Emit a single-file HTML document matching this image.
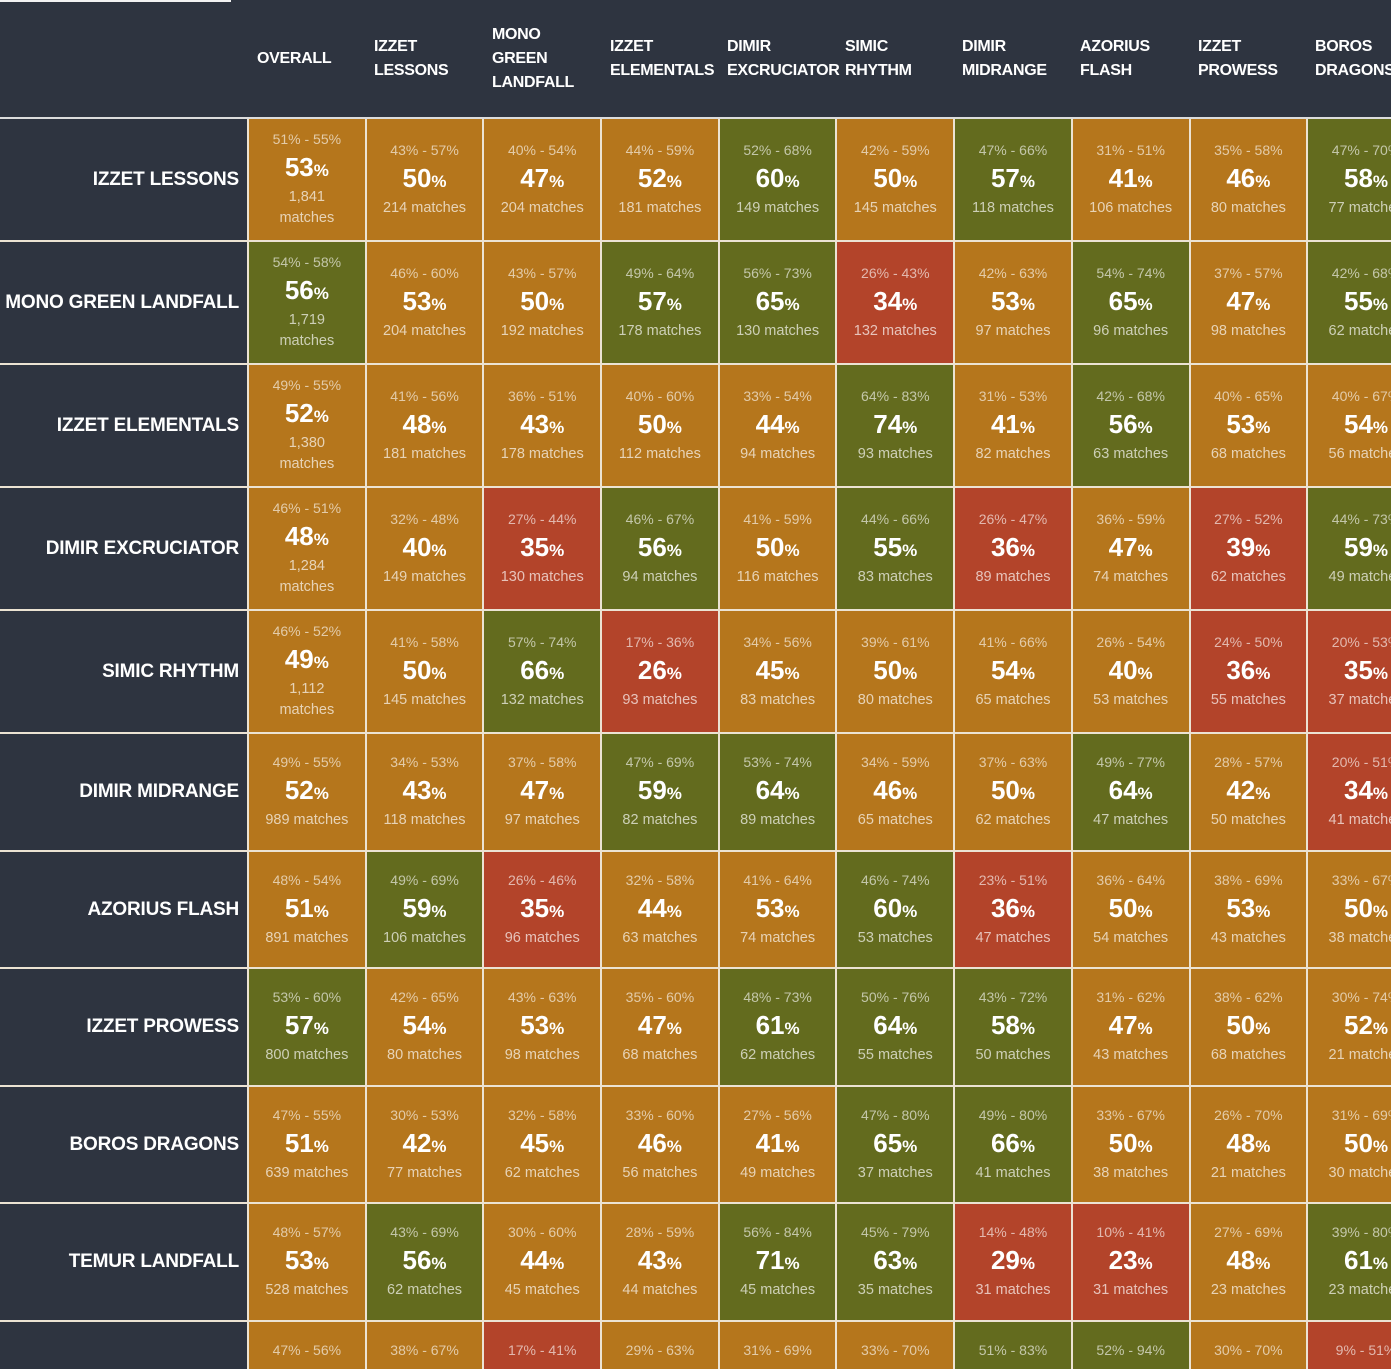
<!DOCTYPE html>
<html><head><meta charset="utf-8"><style>
*{margin:0;padding:0;box-sizing:border-box}
html{width:1391px;height:1369px;overflow:hidden}
body{width:1391px;height:1369px;overflow:hidden;background:#ece3d3;font-family:"Liberation Sans",sans-serif;position:relative}
.hd{position:absolute;left:0;top:0;width:1391px;height:117px;background:#2e3440}
.tl{position:absolute;left:0;top:0;width:231px;height:2px;background:#f2f2f2}
.hl{position:absolute;left:0;top:117px;width:1391px;height:2px;background:#dcdcdc}
.h{position:absolute;color:#fff;font-weight:bold;font-size:16px;line-height:24px;white-space:nowrap;top:0;height:117px;display:flex;align-items:center;letter-spacing:-0.3px}
.r{position:absolute;left:0;width:1500px;display:flex}
.l{width:247px;background:#2e3440;color:#fff;font-weight:bold;font-size:19px;display:flex;align-items:center;justify-content:flex-end;padding-right:8px;white-space:nowrap;flex-shrink:0;letter-spacing:-0.2px}
.c{width:115.7px;margin-left:2px;display:flex;flex-direction:column;align-items:center;justify-content:center;color:#fff;text-align:center;flex-shrink:0}
.o{background:#b5761c}.g{background:#636b1e}.x{background:#b3442a}
.a{font-size:14px;line-height:18px;color:rgba(255,255,255,.62)}
.b{font-size:26px;font-weight:bold;line-height:32px;margin:3px 0 0}
.b i{font-style:normal;font-size:17px}
.m{font-size:14.5px;line-height:21px;color:rgba(255,255,255,.68);white-space:nowrap}
</style></head><body>
<div class="hd"></div><div class="tl"></div><div class="hl"></div>
<div class="h" style="left:257px">OVERALL</div>
<div class="h" style="left:374px">IZZET<br>LESSONS</div>
<div class="h" style="left:492px">MONO<br>GREEN<br>LANDFALL</div>
<div class="h" style="left:610px">IZZET<br>ELEMENTALS</div>
<div class="h" style="left:727px">DIMIR<br>EXCRUCIATOR</div>
<div class="h" style="left:845px">SIMIC<br>RHYTHM</div>
<div class="h" style="left:962px">DIMIR<br>MIDRANGE</div>
<div class="h" style="left:1080px">AZORIUS<br>FLASH</div>
<div class="h" style="left:1198px">IZZET<br>PROWESS</div>
<div class="h" style="left:1315px">BOROS<br>DRAGONS</div>

<div class="r" style="top:119px;height:121px"><div class="l">IZZET LESSONS</div>
<div class="c o"><div class="a">51% - 55%</div><div class="b">53<i>%</i></div><div class="m">1,841<br>matches</div></div>
<div class="c o"><div class="a">43% - 57%</div><div class="b">50<i>%</i></div><div class="m">214 matches</div></div>
<div class="c o"><div class="a">40% - 54%</div><div class="b">47<i>%</i></div><div class="m">204 matches</div></div>
<div class="c o"><div class="a">44% - 59%</div><div class="b">52<i>%</i></div><div class="m">181 matches</div></div>
<div class="c g"><div class="a">52% - 68%</div><div class="b">60<i>%</i></div><div class="m">149 matches</div></div>
<div class="c o"><div class="a">42% - 59%</div><div class="b">50<i>%</i></div><div class="m">145 matches</div></div>
<div class="c g"><div class="a">47% - 66%</div><div class="b">57<i>%</i></div><div class="m">118 matches</div></div>
<div class="c o"><div class="a">31% - 51%</div><div class="b">41<i>%</i></div><div class="m">106 matches</div></div>
<div class="c o"><div class="a">35% - 58%</div><div class="b">46<i>%</i></div><div class="m">80 matches</div></div>
<div class="c g"><div class="a">47% - 70%</div><div class="b">58<i>%</i></div><div class="m">77 matches</div></div></div>

<div class="r" style="top:242px;height:121px"><div class="l">MONO GREEN LANDFALL</div>
<div class="c g"><div class="a">54% - 58%</div><div class="b">56<i>%</i></div><div class="m">1,719<br>matches</div></div>
<div class="c o"><div class="a">46% - 60%</div><div class="b">53<i>%</i></div><div class="m">204 matches</div></div>
<div class="c o"><div class="a">43% - 57%</div><div class="b">50<i>%</i></div><div class="m">192 matches</div></div>
<div class="c g"><div class="a">49% - 64%</div><div class="b">57<i>%</i></div><div class="m">178 matches</div></div>
<div class="c g"><div class="a">56% - 73%</div><div class="b">65<i>%</i></div><div class="m">130 matches</div></div>
<div class="c x"><div class="a">26% - 43%</div><div class="b">34<i>%</i></div><div class="m">132 matches</div></div>
<div class="c o"><div class="a">42% - 63%</div><div class="b">53<i>%</i></div><div class="m">97 matches</div></div>
<div class="c g"><div class="a">54% - 74%</div><div class="b">65<i>%</i></div><div class="m">96 matches</div></div>
<div class="c o"><div class="a">37% - 57%</div><div class="b">47<i>%</i></div><div class="m">98 matches</div></div>
<div class="c g"><div class="a">42% - 68%</div><div class="b">55<i>%</i></div><div class="m">62 matches</div></div></div>

<div class="r" style="top:365px;height:121px"><div class="l">IZZET ELEMENTALS</div>
<div class="c o"><div class="a">49% - 55%</div><div class="b">52<i>%</i></div><div class="m">1,380<br>matches</div></div>
<div class="c o"><div class="a">41% - 56%</div><div class="b">48<i>%</i></div><div class="m">181 matches</div></div>
<div class="c o"><div class="a">36% - 51%</div><div class="b">43<i>%</i></div><div class="m">178 matches</div></div>
<div class="c o"><div class="a">40% - 60%</div><div class="b">50<i>%</i></div><div class="m">112 matches</div></div>
<div class="c o"><div class="a">33% - 54%</div><div class="b">44<i>%</i></div><div class="m">94 matches</div></div>
<div class="c g"><div class="a">64% - 83%</div><div class="b">74<i>%</i></div><div class="m">93 matches</div></div>
<div class="c o"><div class="a">31% - 53%</div><div class="b">41<i>%</i></div><div class="m">82 matches</div></div>
<div class="c g"><div class="a">42% - 68%</div><div class="b">56<i>%</i></div><div class="m">63 matches</div></div>
<div class="c o"><div class="a">40% - 65%</div><div class="b">53<i>%</i></div><div class="m">68 matches</div></div>
<div class="c o"><div class="a">40% - 67%</div><div class="b">54<i>%</i></div><div class="m">56 matches</div></div></div>

<div class="r" style="top:488px;height:121px"><div class="l">DIMIR EXCRUCIATOR</div>
<div class="c o"><div class="a">46% - 51%</div><div class="b">48<i>%</i></div><div class="m">1,284<br>matches</div></div>
<div class="c o"><div class="a">32% - 48%</div><div class="b">40<i>%</i></div><div class="m">149 matches</div></div>
<div class="c x"><div class="a">27% - 44%</div><div class="b">35<i>%</i></div><div class="m">130 matches</div></div>
<div class="c g"><div class="a">46% - 67%</div><div class="b">56<i>%</i></div><div class="m">94 matches</div></div>
<div class="c o"><div class="a">41% - 59%</div><div class="b">50<i>%</i></div><div class="m">116 matches</div></div>
<div class="c g"><div class="a">44% - 66%</div><div class="b">55<i>%</i></div><div class="m">83 matches</div></div>
<div class="c x"><div class="a">26% - 47%</div><div class="b">36<i>%</i></div><div class="m">89 matches</div></div>
<div class="c o"><div class="a">36% - 59%</div><div class="b">47<i>%</i></div><div class="m">74 matches</div></div>
<div class="c x"><div class="a">27% - 52%</div><div class="b">39<i>%</i></div><div class="m">62 matches</div></div>
<div class="c g"><div class="a">44% - 73%</div><div class="b">59<i>%</i></div><div class="m">49 matches</div></div></div>

<div class="r" style="top:611px;height:121px"><div class="l">SIMIC RHYTHM</div>
<div class="c o"><div class="a">46% - 52%</div><div class="b">49<i>%</i></div><div class="m">1,112<br>matches</div></div>
<div class="c o"><div class="a">41% - 58%</div><div class="b">50<i>%</i></div><div class="m">145 matches</div></div>
<div class="c g"><div class="a">57% - 74%</div><div class="b">66<i>%</i></div><div class="m">132 matches</div></div>
<div class="c x"><div class="a">17% - 36%</div><div class="b">26<i>%</i></div><div class="m">93 matches</div></div>
<div class="c o"><div class="a">34% - 56%</div><div class="b">45<i>%</i></div><div class="m">83 matches</div></div>
<div class="c o"><div class="a">39% - 61%</div><div class="b">50<i>%</i></div><div class="m">80 matches</div></div>
<div class="c o"><div class="a">41% - 66%</div><div class="b">54<i>%</i></div><div class="m">65 matches</div></div>
<div class="c o"><div class="a">26% - 54%</div><div class="b">40<i>%</i></div><div class="m">53 matches</div></div>
<div class="c x"><div class="a">24% - 50%</div><div class="b">36<i>%</i></div><div class="m">55 matches</div></div>
<div class="c x"><div class="a">20% - 53%</div><div class="b">35<i>%</i></div><div class="m">37 matches</div></div></div>

<div class="r" style="top:734px;height:116px"><div class="l">DIMIR MIDRANGE</div>
<div class="c o"><div class="a">49% - 55%</div><div class="b">52<i>%</i></div><div class="m">989 matches</div></div>
<div class="c o"><div class="a">34% - 53%</div><div class="b">43<i>%</i></div><div class="m">118 matches</div></div>
<div class="c o"><div class="a">37% - 58%</div><div class="b">47<i>%</i></div><div class="m">97 matches</div></div>
<div class="c g"><div class="a">47% - 69%</div><div class="b">59<i>%</i></div><div class="m">82 matches</div></div>
<div class="c g"><div class="a">53% - 74%</div><div class="b">64<i>%</i></div><div class="m">89 matches</div></div>
<div class="c o"><div class="a">34% - 59%</div><div class="b">46<i>%</i></div><div class="m">65 matches</div></div>
<div class="c o"><div class="a">37% - 63%</div><div class="b">50<i>%</i></div><div class="m">62 matches</div></div>
<div class="c g"><div class="a">49% - 77%</div><div class="b">64<i>%</i></div><div class="m">47 matches</div></div>
<div class="c o"><div class="a">28% - 57%</div><div class="b">42<i>%</i></div><div class="m">50 matches</div></div>
<div class="c x"><div class="a">20% - 51%</div><div class="b">34<i>%</i></div><div class="m">41 matches</div></div></div>

<div class="r" style="top:852px;height:115px"><div class="l">AZORIUS FLASH</div>
<div class="c o"><div class="a">48% - 54%</div><div class="b">51<i>%</i></div><div class="m">891 matches</div></div>
<div class="c g"><div class="a">49% - 69%</div><div class="b">59<i>%</i></div><div class="m">106 matches</div></div>
<div class="c x"><div class="a">26% - 46%</div><div class="b">35<i>%</i></div><div class="m">96 matches</div></div>
<div class="c o"><div class="a">32% - 58%</div><div class="b">44<i>%</i></div><div class="m">63 matches</div></div>
<div class="c o"><div class="a">41% - 64%</div><div class="b">53<i>%</i></div><div class="m">74 matches</div></div>
<div class="c g"><div class="a">46% - 74%</div><div class="b">60<i>%</i></div><div class="m">53 matches</div></div>
<div class="c x"><div class="a">23% - 51%</div><div class="b">36<i>%</i></div><div class="m">47 matches</div></div>
<div class="c o"><div class="a">36% - 64%</div><div class="b">50<i>%</i></div><div class="m">54 matches</div></div>
<div class="c o"><div class="a">38% - 69%</div><div class="b">53<i>%</i></div><div class="m">43 matches</div></div>
<div class="c o"><div class="a">33% - 67%</div><div class="b">50<i>%</i></div><div class="m">38 matches</div></div></div>

<div class="r" style="top:969px;height:116px"><div class="l">IZZET PROWESS</div>
<div class="c g"><div class="a">53% - 60%</div><div class="b">57<i>%</i></div><div class="m">800 matches</div></div>
<div class="c o"><div class="a">42% - 65%</div><div class="b">54<i>%</i></div><div class="m">80 matches</div></div>
<div class="c o"><div class="a">43% - 63%</div><div class="b">53<i>%</i></div><div class="m">98 matches</div></div>
<div class="c o"><div class="a">35% - 60%</div><div class="b">47<i>%</i></div><div class="m">68 matches</div></div>
<div class="c g"><div class="a">48% - 73%</div><div class="b">61<i>%</i></div><div class="m">62 matches</div></div>
<div class="c g"><div class="a">50% - 76%</div><div class="b">64<i>%</i></div><div class="m">55 matches</div></div>
<div class="c g"><div class="a">43% - 72%</div><div class="b">58<i>%</i></div><div class="m">50 matches</div></div>
<div class="c o"><div class="a">31% - 62%</div><div class="b">47<i>%</i></div><div class="m">43 matches</div></div>
<div class="c o"><div class="a">38% - 62%</div><div class="b">50<i>%</i></div><div class="m">68 matches</div></div>
<div class="c o"><div class="a">30% - 74%</div><div class="b">52<i>%</i></div><div class="m">21 matches</div></div></div>

<div class="r" style="top:1087px;height:115px"><div class="l">BOROS DRAGONS</div>
<div class="c o"><div class="a">47% - 55%</div><div class="b">51<i>%</i></div><div class="m">639 matches</div></div>
<div class="c o"><div class="a">30% - 53%</div><div class="b">42<i>%</i></div><div class="m">77 matches</div></div>
<div class="c o"><div class="a">32% - 58%</div><div class="b">45<i>%</i></div><div class="m">62 matches</div></div>
<div class="c o"><div class="a">33% - 60%</div><div class="b">46<i>%</i></div><div class="m">56 matches</div></div>
<div class="c o"><div class="a">27% - 56%</div><div class="b">41<i>%</i></div><div class="m">49 matches</div></div>
<div class="c g"><div class="a">47% - 80%</div><div class="b">65<i>%</i></div><div class="m">37 matches</div></div>
<div class="c g"><div class="a">49% - 80%</div><div class="b">66<i>%</i></div><div class="m">41 matches</div></div>
<div class="c o"><div class="a">33% - 67%</div><div class="b">50<i>%</i></div><div class="m">38 matches</div></div>
<div class="c o"><div class="a">26% - 70%</div><div class="b">48<i>%</i></div><div class="m">21 matches</div></div>
<div class="c o"><div class="a">31% - 69%</div><div class="b">50<i>%</i></div><div class="m">30 matches</div></div></div>

<div class="r" style="top:1204px;height:116px"><div class="l">TEMUR LANDFALL</div>
<div class="c o"><div class="a">48% - 57%</div><div class="b">53<i>%</i></div><div class="m">528 matches</div></div>
<div class="c g"><div class="a">43% - 69%</div><div class="b">56<i>%</i></div><div class="m">62 matches</div></div>
<div class="c o"><div class="a">30% - 60%</div><div class="b">44<i>%</i></div><div class="m">45 matches</div></div>
<div class="c o"><div class="a">28% - 59%</div><div class="b">43<i>%</i></div><div class="m">44 matches</div></div>
<div class="c g"><div class="a">56% - 84%</div><div class="b">71<i>%</i></div><div class="m">45 matches</div></div>
<div class="c g"><div class="a">45% - 79%</div><div class="b">63<i>%</i></div><div class="m">35 matches</div></div>
<div class="c x"><div class="a">14% - 48%</div><div class="b">29<i>%</i></div><div class="m">31 matches</div></div>
<div class="c x"><div class="a">10% - 41%</div><div class="b">23<i>%</i></div><div class="m">31 matches</div></div>
<div class="c o"><div class="a">27% - 69%</div><div class="b">48<i>%</i></div><div class="m">23 matches</div></div>
<div class="c g"><div class="a">39% - 80%</div><div class="b">61<i>%</i></div><div class="m">23 matches</div></div></div>

<div class="r" style="top:1322px;height:47px;align-items:stretch"><div class="l"></div>
<div class="c o" style="justify-content:flex-start;padding-top:19px"><div class="a">47% - 56%</div></div>
<div class="c o" style="justify-content:flex-start;padding-top:19px"><div class="a">38% - 67%</div></div>
<div class="c x" style="justify-content:flex-start;padding-top:19px"><div class="a">17% - 41%</div></div>
<div class="c o" style="justify-content:flex-start;padding-top:19px"><div class="a">29% - 63%</div></div>
<div class="c o" style="justify-content:flex-start;padding-top:19px"><div class="a">31% - 69%</div></div>
<div class="c o" style="justify-content:flex-start;padding-top:19px"><div class="a">33% - 70%</div></div>
<div class="c g" style="justify-content:flex-start;padding-top:19px"><div class="a">51% - 83%</div></div>
<div class="c g" style="justify-content:flex-start;padding-top:19px"><div class="a">52% - 94%</div></div>
<div class="c o" style="justify-content:flex-start;padding-top:19px"><div class="a">30% - 70%</div></div>
<div class="c x" style="justify-content:flex-start;padding-top:19px"><div class="a">9% - 51%</div></div></div>
</body></html>
